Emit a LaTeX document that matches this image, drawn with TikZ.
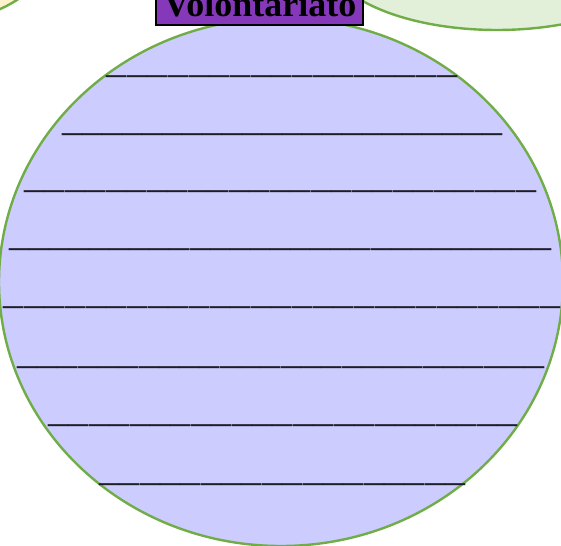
\documentclass[tikz,border=0pt]{standalone}
\usepackage{fontspec}
\usetikzlibrary{shapes.geometric}
\setmainfont{Liberation Serif}
\definecolor{rimgreen}{HTML}{70AD47}
\definecolor{bluefill}{HTML}{CCCCFF}
\definecolor{greenfill}{HTML}{E2EFD9}
\definecolor{yellowfill}{HTML}{FFF2CC}
\definecolor{labelpurple}{HTML}{8539BA}
\definecolor{lineink}{HTML}{1E1E28}
\newcommand{\fillline}[1]{\hbox to #1{\xleaders\hbox{\_}\hfill}}
\begin{document}
\begin{tikzpicture}[x=1pt,y=-1pt,
  blob/.style={draw=rimgreen,line width=2.4pt},
  ruleline/.style={anchor=base west,inner sep=0pt,outer sep=0pt,text=lineink,font=\fontsize{40}{40}\selectfont},
  labelbox/.style={draw=black,line width=2pt,fill=labelpurple},
  labeltext/.style={anchor=base,inner sep=0pt,font=\fontsize{36}{36}\selectfont\bfseries}]
\useasboundingbox (0,0) rectangle (561,545);
\clip (0,0) rectangle (561,545);
\path[blob,fill=yellowfill] (-80,-50) ellipse [x radius=130, y radius=75];
\path[blob,fill=greenfill] (497,-45) ellipse [x radius=170, y radius=75];
\node[blob,fill=bluefill,ellipse,minimum width=564pt,minimum height=528pt,inner sep=0pt] (main) at (281,282) {};
\foreach \y/\a/\b in {75/106/458,133/62/502,190/24/537,248/9/552,306/3/561,366/17/545,424/48/518,483/99/466}{
  \pgfmathsetmacro{\w}{\b-\a}
  \node[ruleline] at (\a,\y-2.5) {\fillline{\w pt}};
}
\path[labelbox] (156,-5) rectangle (363,25);
\node[labeltext] (label) at (260,16.5) {Volontariato};
\end{tikzpicture}
\end{document}
